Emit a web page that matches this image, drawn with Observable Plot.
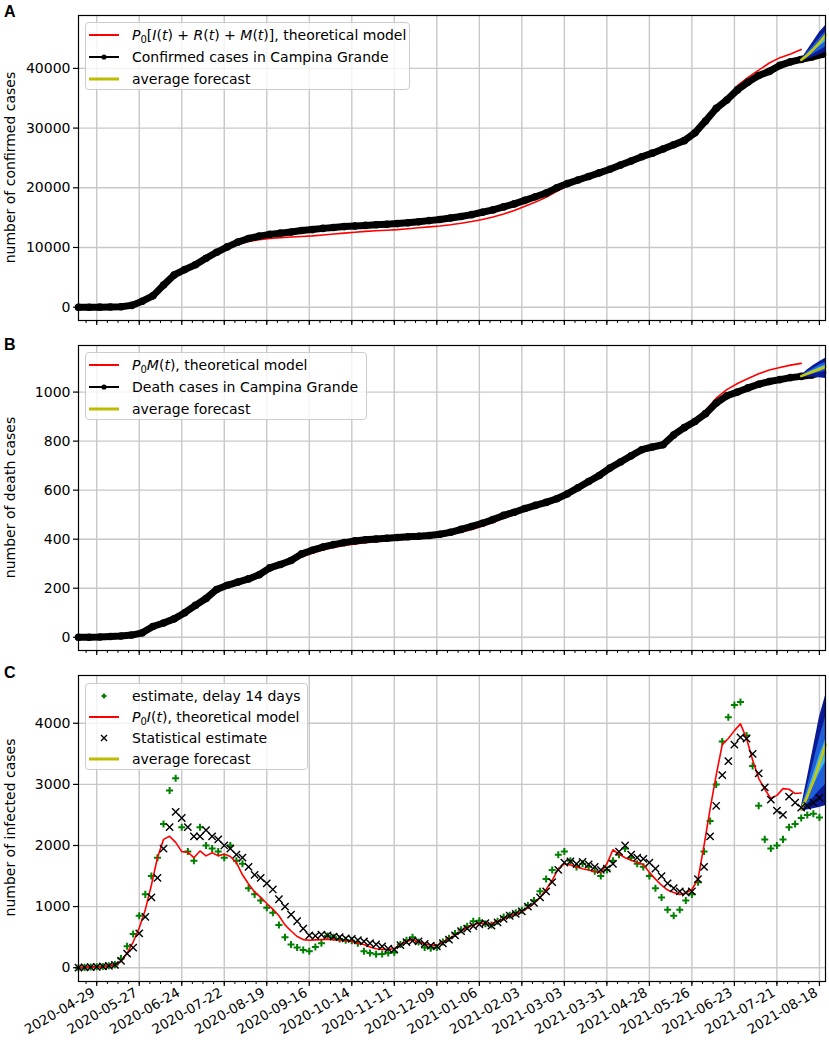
<!DOCTYPE html>
<html><head><meta charset="utf-8">
<script src="https://cdn.jsdelivr.net/npm/d3@7"></script>
<script src="https://cdn.jsdelivr.net/npm/@observablehq/plot@0.6"></script>
<style>
body{margin:0;background:#fff;font-family:"DejaVu Sans",sans-serif;}
#wrap{position:relative;width:829px;height:1044px;overflow:hidden;background:#fff}
#wrap svg{display:block}
.legend{position:absolute;background:rgba(255,255,255,0.8);border:1px solid #cccccc;border-radius:4px;box-sizing:border-box;font-size:14px;color:#000}
.row{position:absolute;height:20px;line-height:20px;white-space:nowrap}
.sw{position:absolute}
sub{font-size:10px;vertical-align:-3px;line-height:0}
.plet{position:absolute;left:4px;font:bold 16px "Liberation Sans",Arial,sans-serif;line-height:16px;color:#000}
</style></head>
<body><div id="wrap"></div>
<script>
// ---------------- DATA ----------------
// weekly series (start 2020-04-17, step 7 days)
const confirmedObs = [
 0, 0, 10, 30, 80, 300, 1000, 1900, 3700, 5400,
 6300, 7100, 8200, 9200, 10100, 10900, 11500, 11900, 12200, 12400,
 12600, 12850, 13000, 13200, 13350, 13500, 13600, 13700, 13800, 13900,
 14000, 14150, 14300, 14500, 14700, 14950, 15200, 15500, 15900, 16300,
 16800, 17300, 17900, 18500, 19100, 20000, 20700, 21300, 21900, 22500,
 23100, 23800, 24500, 25200, 25800, 26500, 27200, 27900, 29200, 31200,
 33300, 34700, 36400, 37700, 38800, 39500, 40500, 41100, 41500, 41900,
 42350];
const confirmedModel = [
 0, 0, 20, 50, 120, 350, 1000, 1900, 3600, 5300,
 6200, 7000, 8000, 9000, 9800, 10500, 11000, 11300, 11500, 11650,
 11750, 11850, 11950, 12100, 12250, 12400, 12550, 12700, 12800, 12900,
 13000, 13150, 13300, 13450, 13600, 13800, 14050, 14350, 14700, 15100,
 15600, 16200, 16900, 17600, 18400, 19400, 20300, 21000, 21700, 22400,
 23000, 23700, 24400, 25100, 25700, 26300, 26900, 27600, 28800, 30700,
 33000, 35200, 37100, 38500, 39700, 40900, 41800, 42400, 43150];
const deathsObs = [
 0, 0, 1, 3, 5, 9, 18, 44, 58, 75,
 100, 130, 158, 195, 212, 225, 238, 255, 283, 297,
 313, 340, 355, 368, 378, 386, 393, 398, 401, 404,
 407, 410, 412, 415, 420, 428, 440, 452, 465, 480,
 497, 510, 525, 538, 550, 565, 585, 610, 635, 660,
 690, 715, 740, 765, 776, 785, 825, 855, 880, 912,
 955, 985, 1000, 1017, 1032, 1043, 1051, 1059, 1064, 1070,
 1080];
const deathsModel = [
 0, 0, 1, 3, 5, 9, 18, 45, 60, 78,
 100, 128, 155, 185, 208, 222, 236, 252, 272, 290,
 305, 327, 343, 356, 366, 374, 381, 386, 390, 394,
 397, 400, 403, 406, 411, 418, 428, 440, 453, 468,
 485, 500, 516, 532, 548, 565, 585, 610, 635, 660,
 690, 715, 740, 765, 780, 792, 825, 855, 882, 925,
 975, 1010, 1035, 1055, 1075, 1090, 1100, 1110, 1117];
// 4-day series (start 2020-04-17, step 4 days)
const infectedStat = [
 0, 5, 10, 15, 20, 30, 45, 110, 230, 330,
 560, 830, 1150, 1470, 1950, 2300, 2550, 2450, 2300, 2150,
 2150, 2250, 2150, 2100, 2000, 1950, 1850, 1800, 1650, 1520,
 1470, 1380, 1280, 1120, 1000, 870, 760, 640, 530, 520,
 540, 530, 510, 500, 480, 470, 450, 430, 400, 380,
 350, 310, 300, 370, 420, 440, 430, 390, 360, 350,
 400, 460, 530, 600, 640, 680, 710, 730, 690, 740,
 800, 850, 880, 920, 1000, 1060, 1150, 1250, 1400, 1600,
 1720, 1740, 1700, 1730, 1690, 1650, 1600, 1620, 1700, 1900,
 2000, 1850, 1800, 1780, 1720, 1620, 1500, 1380, 1300, 1250,
 1230, 1250, 1450, 1650, 2150, 2650, 3150, 3380, 3650, 3770,
 3750, 3500, 3180, 2950, 2750, 2570, 2500, 2800, 2700, 2620,
 2650, 2700, 2780];
const infectedDelay14 = [
 0, 5, 10, 15, 20, 30, 50, 150, 350, 550,
 850, 1200, 1500, 1800, 2350, 2900, 3100, 2300, 1900, 1750,
 2300, 2000, 1950, 1900, 1800, 2000, 1750, 1700, 1300, 1200,
 1100, 980, 900, 700, 500, 380, 330, 290, 270, 340,
 400, 520, 500, 470, 450, 440, 400, 270, 240, 220,
 225, 240, 250, 380, 450, 500, 420, 330, 320, 330,
 420, 480, 560, 620, 680, 760, 770, 720, 700, 760,
 830, 860, 900, 940, 1020, 1100, 1250, 1450, 1600, 1850,
 1900, 1750, 1650, 1700, 1650, 1580, 1500, 1600, 1750, 1850,
 1950, 1800, 1700, 1650, 1500, 1300, 1150, 950, 850, 950,
 1100, 1200, 1400, 1900, 2400, 3000, 3700, 4100, 4300, 4350,
 3800, 3300, 2650, 2100, 1950, 2000, 2100, 2300, 2350, 2450,
 2500, 2520, 2460];
const infectedModel = [
 0, 5, 10, 15, 20, 30, 45, 100, 240, 420,
 650, 950, 1350, 1800, 2100, 2150, 2050, 1900, 1890, 1800,
 1910, 1830, 1880, 1830, 1860, 1820, 1720, 1520, 1370, 1240,
 1150, 1050, 960, 850, 700, 600, 510, 460, 450, 455,
 460, 465, 460, 450, 440, 430, 400, 380, 340, 310,
 300, 300, 310, 380, 430, 460, 420, 390, 370, 360,
 420, 480, 530, 600, 660, 700, 730, 720, 720, 760,
 800, 840, 880, 920, 980, 1050, 1150, 1280, 1430, 1620,
 1700, 1680, 1650, 1620, 1600, 1570, 1560, 1700, 1930, 1860,
 1800, 1760, 1720, 1690, 1560, 1450, 1350, 1270, 1230, 1200,
 1220, 1280, 1450, 2000, 2600, 3150, 3650, 3750, 3880, 3990,
 3750, 3400, 3100, 2920, 2770, 2820, 2930, 2920, 2850, 2860];
// forecast fans
const fanDays = ["2021-08-06", "2021-08-10", "2021-08-14", "2021-08-18", "2021-08-22"];
const fanA_lo = [41300, 41500, 41900, 42300, 42700];
const fanA_hi = [41500, 43000, 44500, 46000, 47200];
const fanA_inLo = [41350, 41800, 42400, 43000, 43600];
const fanA_inHi = [41450, 42600, 43800, 45000, 46200];
const fanA_mean = [41400, 42200, 43200, 44300, 45600];
const fanB_lo = [1062, 1060, 1060, 1058, 1055];
const fanB_hi = [1068, 1090, 1108, 1124, 1138];
const fanB_inLo = [1064, 1068, 1074, 1080, 1086];
const fanB_inHi = [1066, 1082, 1096, 1110, 1122];
const fanB_mean = [1065, 1074, 1084, 1093, 1103];
const fanC_lo = [2560, 2580, 2600, 2620, 2650];
const fanC_hi = [2620, 3100, 3600, 4100, 4450];
const fanC_inLo = [2590, 2680, 2780, 2900, 3000];
const fanC_inHi = [2600, 2950, 3350, 3750, 4100];
const fanC_mean = [2590, 2800, 3050, 3350, 3650];
// axes
const majorTickLabels = ["2020-04-29","2020-05-27","2020-06-24","2020-07-22","2020-08-19","2020-09-16",
 "2020-10-14","2020-11-11","2020-12-09","2021-01-06","2021-02-03","2021-03-03","2021-03-31",
 "2021-04-28","2021-05-26","2021-06-23","2021-07-21","2021-08-18"];
const yTicksA = [0, 10000, 20000, 30000, 40000];
const yTicksB = [0, 200, 400, 600, 800, 1000];
const yTicksC = [0, 1000, 2000, 3000, 4000];

// ---------------- BUILD ----------------
const P = s => new Date(s + "T00:00:00Z");
const start = P("2020-04-17");
const xDomain = [P("2020-04-17"), P("2021-08-22")];
const major = majorTickLabels.map(P);
const minor = d3.utcDay.range(P("2020-04-22"), P("2021-08-23"), 7);
const weekly = arr => arr.map((v, i) => ({date: d3.utcDay.offset(start, 7 * i), v}));
const four = arr => arr.map((v, i) => ({date: d3.utcDay.offset(start, 4 * i), v}));
const fan = (lo, hi, ilo, ihi, m) => fanDays.map((d, i) => ({date: P(d), lo: lo[i], hi: hi[i], ilo: ilo[i], ihi: ihi[i], m: m[i]}));

const RED = "#ff0000", YEL = "#c8c800", DARK = "#0b1a95", MID = "#1f5fd8", LIGHT = "#43b8ea";
const GRID = "#c8c8c8";
const wrap = document.getElementById("wrap");

function common(height, marginBottom, yDomain, yTicks, showLabels) {
  const post = [
    Plot.axisX({ticks: minor, tickSize: 3, tickFormat: () => "", strokeWidth: 1}),
    Plot.axisX({ticks: major, tickSize: 5, tickFormat: () => "", strokeWidth: 1.2})
  ];
  if (showLabels) post.push(Plot.axisX({ticks: major, tickSize: 0, tickRotate: -30, tickPadding: 7, fontSize: 13.5, dx: -3, dy: 3, tickFormat: d3.utcFormat("%Y-%m-%d"), label: null}));
  post.push(
    Plot.axisY({ticks: yTicks, tickSize: 5, tickPadding: 3, tickFormat: "d", label: null, strokeWidth: 1.2}),
    Plot.frame({stroke: "black", strokeWidth: 1.2})
  );
  return {
    width: 829, height, marginLeft: 78, marginRight: 4, marginTop: 15, marginBottom,
    x: {type: "utc", domain: xDomain},
    y: {domain: yDomain},
    style: {fontFamily: "DejaVu Sans", fontSize: "14px", color: "black", background: "white", overflow: "visible"},
    pre: [
      Plot.gridX({ticks: major, stroke: GRID, strokeOpacity: 1, strokeWidth: 1.4}),
      Plot.gridY({ticks: yTicks, stroke: GRID, strokeOpacity: 1, strokeWidth: 1.4})
    ],
    post
  };
}
function fanMarks(f) {
  return [
    Plot.areaY(f, {x: "date", y1: "lo", y2: "hi", fill: DARK, curve: "linear"}),
    Plot.areaY(f, {x: "date", y1: "ilo", y2: "ihi", fill: MID}),
    Plot.areaY(f, {x: "date", y1: d => (d.ilo * 2 + d.ihi) / 3, y2: d => (d.ilo + d.ihi * 2) / 3, fill: LIGHT}),
    Plot.line(f, {x: "date", y: "m", stroke: YEL, strokeWidth: 2.5})
  ];
}
function decorate(svg, ylabel) {
  d3.select(svg).append("text").attr("transform", "translate(15,167.5) rotate(-90)").attr("text-anchor", "middle")
    .attr("style", "font:14px 'DejaVu Sans'").attr("fill", "black").text(ylabel);
}
function letter(ch, top) {
  wrap.insertAdjacentHTML("beforeend", `<div class="plet" style="top:${top}px">${ch}</div>`);
}

// Panel A
{
  const c = common(330, 10, [-2230, 48860], yTicksA, false);
  const svg = Plot.plot({...c, marks: [
    ...c.pre,
    Plot.line(weekly(confirmedModel), {x: "date", y: "v", stroke: RED, strokeWidth: 1.6}),
    Plot.line(weekly(confirmedObs), {x: "date", y: "v", stroke: "black", strokeWidth: 7, strokeLinejoin: "round", strokeLinecap: "round"}),
    Plot.dot(weekly(confirmedObs), {x: "date", y: "v", r: 3.8, fill: "black"}),
    ...fanMarks(fan(fanA_lo, fanA_hi, fanA_inLo, fanA_inHi, fanA_mean)),
    ...c.post
  ]});
  decorate(svg, "number of confirmed cases");
  wrap.appendChild(svg);
}
// Panel B
{
  const c = common(330, 10, [-54, 1190], yTicksB, false);
  const svg = Plot.plot({...c, marks: [
    ...c.pre,
    Plot.line(weekly(deathsModel), {x: "date", y: "v", stroke: RED, strokeWidth: 1.6}),
    Plot.line(weekly(deathsObs), {x: "date", y: "v", stroke: "black", strokeWidth: 7, strokeLinejoin: "round", strokeLinecap: "round"}),
    Plot.dot(weekly(deathsObs), {x: "date", y: "v", r: 3.8, fill: "black"}),
    ...fanMarks(fan(fanB_lo, fanB_hi, fanB_inLo, fanB_inHi, fanB_mean)),
    ...c.post
  ]});
  decorate(svg, "number of death cases");
  wrap.appendChild(svg);
}
// Panel C
{
  const c = common(384, 63, [-226, 4782], yTicksC, true);
  const svg = Plot.plot({...c, marks: [
    ...c.pre,
    ...fanMarks(fan(fanC_lo, fanC_hi, fanC_inLo, fanC_inHi, fanC_mean)),
    Plot.dot(four(infectedDelay14), {x: "date", y: "v", symbol: "plus", r: 2.4, stroke: "#008000", strokeWidth: 2}),
    Plot.line(four(infectedModel), {x: "date", y: "v", stroke: RED, strokeWidth: 1.6}),
    Plot.dot(four(infectedStat), {x: "date", y: "v", symbol: "times", r: 3.4, stroke: "black", strokeWidth: 1.4}),
    ...c.post
  ]});
  decorate(svg, "number of infected cases");
  wrap.appendChild(svg);
}
letter("A", 4);
letter("B", 337);
letter("C", 665);

// ---------------- LEGENDS ----------------
function swatch(kind, color) {
  let inner = "";
  if (kind === "line") inner = `<line x1="0" x2="30" y1="10" y2="10" stroke="${color}" stroke-width="2"/>`;
  if (kind === "thick") inner = `<line x1="0" x2="30" y1="10" y2="10" stroke="${color}" stroke-width="3"/>`;
  if (kind === "dotline") inner = `<line x1="0" x2="30" y1="10" y2="10" stroke="${color}" stroke-width="2"/><circle cx="15" cy="10" r="2.6" fill="${color}"/>`;
  if (kind === "plus") inner = `<path d="M12.5,10H17.5M15,7.5V12.5" stroke="${color}" stroke-width="2"/>`;
  if (kind === "times") inner = `<path d="M12,7L18,13M18,7L12,13" stroke="${color}" stroke-width="1.4"/>`;
  return `<svg width="30" height="20" style="overflow:visible">${inner}</svg>`;
}
function legend(box, rows) {
  const d = document.createElement("div");
  d.className = "legend";
  Object.assign(d.style, {left: box[0] + "px", top: box[1] + "px", width: box[2] + "px", height: box[3] + "px"});
  rows.forEach(r => {
    const cy = r.y - box[1];
    d.insertAdjacentHTML("beforeend",
      `<div class="sw" style="left:3px;top:${cy - 10}px">${swatch(r.kind, r.color)}</div>` +
      `<div class="row" style="left:46px;top:${cy - 10}px">${r.html}</div>`);
  });
  wrap.appendChild(d);
}
const I = s => `<i>${s}</i>`;
legend([85, 22, 325, 68], [
  {y: 33.5, kind: "line", color: RED, html: `${I("P")}<sub>0</sub>[${I("I")}(${I("t")}) + ${I("R")}(${I("t")}) + ${I("M")}(${I("t")})], theoretical model`},
  {y: 56, kind: "dotline", color: "black", html: "Confirmed cases in Campina Grande"},
  {y: 77.5, kind: "thick", color: "#bcbc00", html: "average forecast"}
]);
legend([85, 352, 282, 68], [
  {y: 363.5, kind: "line", color: RED, html: `${I("P")}<sub>0</sub>${I("M")}(${I("t")}), theoretical model`},
  {y: 386, kind: "dotline", color: "black", html: "Death cases in Campina Grande"},
  {y: 407.5, kind: "thick", color: "#bcbc00", html: "average forecast"}
]);
legend([85, 683, 223, 87], [
  {y: 694.5, kind: "plus", color: "#008000", html: "estimate, delay 14 days"},
  {y: 715.5, kind: "line", color: RED, html: `${I("P")}<sub>0</sub>${I("I")}(${I("t")}), theoretical model`},
  {y: 736.5, kind: "times", color: "black", html: "Statistical estimate"},
  {y: 757.5, kind: "thick", color: "#bcbc00", html: "average forecast"}
]);
</script></body></html>
